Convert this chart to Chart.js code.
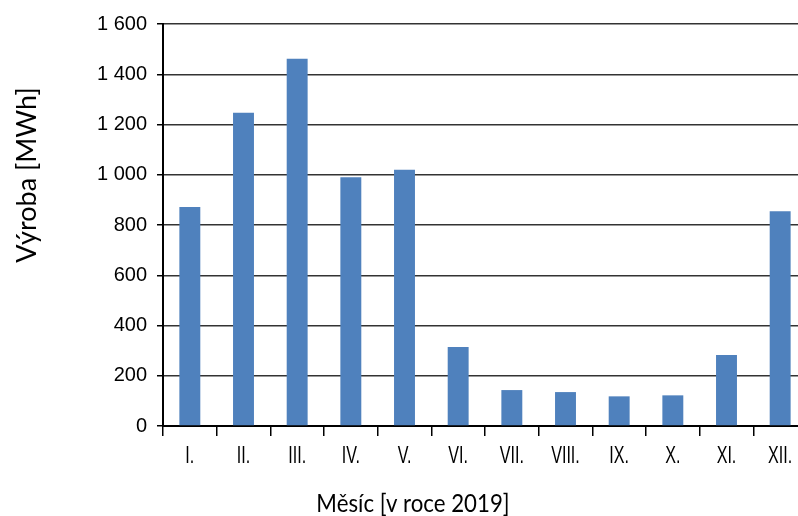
<!DOCTYPE html>
<html>
<head>
<meta charset="utf-8">
<script src="https://cdn.jsdelivr.net/npm/chart.js@4/dist/chart.umd.min.js"></script>
<style>
  html, body { margin: 0; padding: 0; background: #fff; overflow: hidden; }
  #wrap { width: 808px; height: 516px; }
</style>
</head>
<body>
<div id="wrap"><canvas id="c" width="808" height="516"></canvas></div>
<script>
// Monthly production in 2019
const months = ['I.', 'II.', 'III.', 'IV.', 'V.', 'VI.', 'VII.', 'VIII.', 'IX.', 'X.', 'XI.', 'XII.'];
const production = [872, 1247, 1462, 990, 1020, 314, 143, 135, 118, 122, 283, 855];
const yTicks = [0, 200, 400, 600, 800, 1000, 1200, 1400, 1600];
const xTitle = 'Měsíc [v roce 2019]';
const yTitle = 'Výroba [MWh]';

// Condensed month labels and axis titles, painted after the chart
const axisText = {
  id: 'axisText',
  afterDraw(chart) {
    const { ctx } = chart;
    const xs = chart.scales.x;
    ctx.save();
    ctx.fillStyle = '#000';
    ctx.textAlign = 'center';
    ctx.textBaseline = 'alphabetic';

    // month labels under each category
    ctx.font = '23px "Liberation Sans", Arial, sans-serif';
    chart.data.labels.forEach((lab, i) => {
      ctx.save();
      ctx.translate(xs.getPixelForValue(i), 463);
      ctx.scale(0.7, 1);
      ctx.fillText(lab, 0, 0);
      ctx.restore();
    });

    // x axis title
    ctx.font = '25px Lato, "Open Sans", sans-serif';
    ctx.save();
    ctx.translate(413, 512);
    ctx.scale(0.89, 1);
    ctx.fillText(xTitle, 0, 0);
    ctx.restore();

    // y axis title
    ctx.font = '27px Lato, "Open Sans", sans-serif';
    ctx.translate(36, 175);
    ctx.rotate(-Math.PI / 2);
    ctx.fillText(yTitle, 0, 0);
    ctx.restore();
  }
};

new Chart(document.getElementById('c'), {
  type: 'bar',
  data: {
    labels: months,
    datasets: [{
      data: production,
      backgroundColor: '#4F81BD',
      borderWidth: 0,
      categoryPercentage: 1,
      barPercentage: 0.39
    }]
  },
  options: {
    responsive: false,
    animation: false,
    events: [],
    layout: { padding: { top: 24, right: 1, left: 0, bottom: 0 } },
    plugins: { legend: { display: false }, tooltip: { enabled: false } },
    scales: {
      x: {
        offset: true,
        afterFit(scale) { scale.height = 90; },
        border: { color: '#000', width: 2 },
        grid: {
          offset: true,
          drawOnChartArea: false,
          drawTicks: true,
          tickLength: 10,
          color: '#000',
          lineWidth: 1.5
        },
        ticks: {
          display: false,
          autoSkip: false,
          maxRotation: 0
        }
      },
      y: {
        min: 0,
        max: 1600,
        afterFit(scale) { scale.width = 163; },
        afterBuildTicks(scale) { scale.ticks = yTicks.map(v => ({ value: v })); },
        border: { color: '#000', width: 2 },
        grid: {
          color: '#333',
          lineWidth: 1.5,
          tickLength: 6,
          tickColor: '#000'
        },
        ticks: {
          color: '#000',
          padding: 10,
          font: { family: '"Liberation Sans", Arial, sans-serif', size: 20 },
          callback: v => String(v).replace(/\B(?=(\d{3})+(?!\d))/g, ' ')
        }
      }
    }
  },
  plugins: [axisText]
});
</script>
</body>
</html>
